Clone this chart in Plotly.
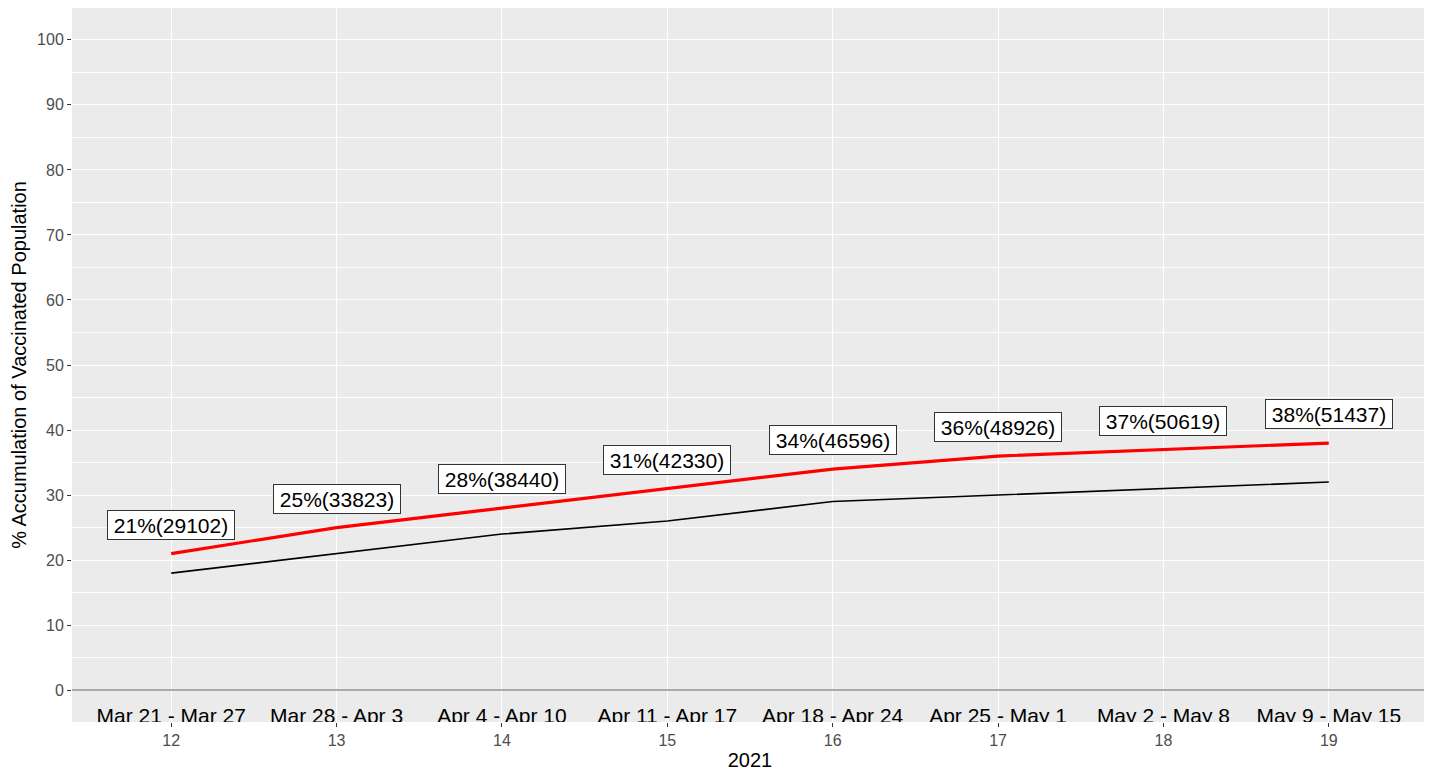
import plotly.graph_objects as go

weeks = [12, 13, 14, 15, 16, 17, 18, 19]
week_labels = ["Mar 21 - Mar 27", "Mar 28 - Apr 3", "Apr 4 - Apr 10", "Apr 11 - Apr 17",
               "Apr 18 - Apr 24", "Apr 25 - May 1", "May 2 - May 8", "May 9 - May 15"]
red_pct = [21, 25, 28, 31, 34, 36, 37, 38]
red_counts = [29102, 33823, 38440, 42330, 46596, 48926, 50619, 51437]
black_pct = [18, 21, 24, 26, 29, 30, 31, 32]
y_ticks = [0, 10, 20, 30, 40, 50, 60, 70, 80, 90, 100]

FONT = "Liberation Sans, Arial, sans-serif"

fig = go.Figure()
fig.add_trace(go.Scatter(x=weeks, y=black_pct, mode="lines",
                         line=dict(color="black", width=1.6), showlegend=False))
fig.add_trace(go.Scatter(x=weeks, y=red_pct, mode="lines",
                         line=dict(color="#FF0000", width=3.2), showlegend=False))
# week range labels inside panel (clipped at panel bottom)
fig.add_trace(go.Scatter(x=weeks, y=[-4.3] * len(weeks), mode="text", text=week_labels,
                         textposition="middle center", cliponaxis=True,
                         textfont=dict(family=FONT, size=21, color="black"),
                         showlegend=False, hoverinfo="skip"))

for w, p, c in zip(weeks, red_pct, red_counts):
    fig.add_annotation(x=w, y=p, yshift=29, text=f"{p}%({c})", showarrow=False,
                       font=dict(family=FONT, size=21, color="black"),
                       bgcolor="white", bordercolor="#333333", borderwidth=1,
                       borderpad=1, width=124, height=26,
                       xanchor="center", yanchor="middle")

# page body has an 8px margin; compensate so the panel lands where it should
fig.update_layout(
    width=1424, height=766,
    margin=dict(l=64, r=4, t=0, b=52, autoexpand=False),
    paper_bgcolor="white", plot_bgcolor="#EBEBEB",
    font=dict(family=FONT),
    showlegend=False,
)
fig.update_xaxes(
    range=[11.4, 19.6], tickvals=weeks, ticktext=[str(w) for w in weeks],
    showgrid=True, gridcolor="white", gridwidth=1.2, zeroline=False,
    ticks="outside", ticklen=4, tickcolor="#333333", tickwidth=1,
    tickfont=dict(family=FONT, size=16, color="#4D4D4D"),
    title=dict(text="2021", font=dict(family=FONT, size=20, color="black"), standoff=4),
    showline=False, automargin=False,
)
fig.update_yaxes(
    range=[-4.9, 104.9], tickvals=y_ticks, ticktext=[str(v) for v in y_ticks],
    showgrid=True, gridcolor="white", gridwidth=1.2,
    zeroline=True, zerolinecolor="#ABABAB", zerolinewidth=1.5,
    minor=dict(dtick=5, tick0=0, showgrid=True, gridcolor="white", gridwidth=0.6, ticks=""),
    ticks="outside", ticklen=4, tickcolor="#333333", tickwidth=1,
    tickfont=dict(family=FONT, size=16, color="#4D4D4D"),
    title=dict(text="% Accumulation of Vaccinated Population",
               font=dict(family=FONT, size=20, color="black"), standoff=6),
    showline=False, automargin=False,
)

fig.write_html("out.html")
